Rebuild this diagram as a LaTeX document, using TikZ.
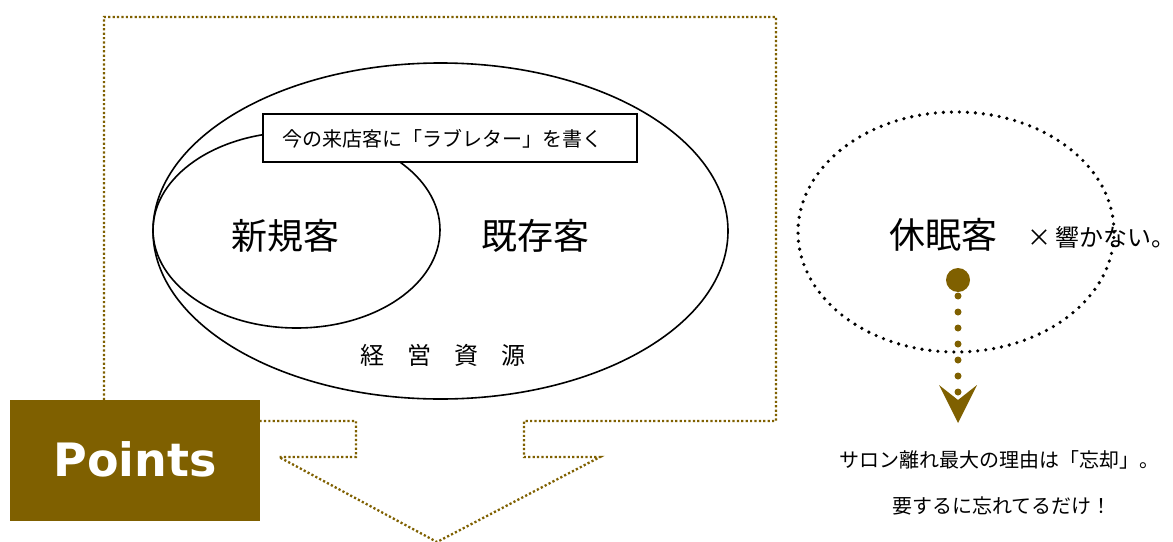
\documentclass[tikz,border=0pt]{standalone}
\usepackage{fontspec}
\setmainfont{Noto Sans CJK JP}
\newfontfamily\pointsfont{DejaVu Sans}
\usetikzlibrary{shapes.geometric}
\definecolor{olive}{HTML}{7F6000}
\tikzset{
  frameline/.style={draw=olive, line width=2.3pt, dash pattern=on 2.2pt off 2.2pt},
  solidell/.style={ellipse, draw=black, line width=1.6pt, inner sep=0pt},
  dotell/.style={ellipse, draw=black, line width=3.6pt, dash pattern=on 0pt off 8pt, line cap=round, inner sep=0pt},
  jtext/.style={inner sep=0pt, text=black},
  labelbox/.style={draw=black, line width=2pt, fill=white, inner sep=0pt},
}
\begin{document}
\begin{tikzpicture}[x=1pt, y=-1pt]
\useasboundingbox (0,0) rectangle (1173,541);
% dotted frame with arrow
\draw[frameline] (104,400) -- (104,17) -- (776,17) -- (776,421) -- (524,421) -- (524,457)
  -- (600,457) -- (437,542) -- (279,457) -- (356,457) -- (356,421) -- (260,421);
% Points box
\node[fill=olive, minimum width=250pt, minimum height=121pt, inner sep=0pt, anchor=north west] (pbox) at (10,400) {};
\node[text=white, font=\pointsfont\bfseries\fontsize{46pt}{46pt}\selectfont, inner sep=0pt] (ptext) at (135,459) {Points};
% ellipses
\node[solidell, minimum width=575pt, minimum height=336pt] (outer) at (440.5,231) {};
\node[solidell, minimum width=287pt, minimum height=196pt] (inner) at (296.5,230) {};
\node[labelbox, minimum width=374pt, minimum height=48pt, anchor=north west] (lbox) at (262,113) {};
\node[jtext, font=\fontsize{20pt}{20pt}\selectfont] (ltext) at (442,139) {今の来店客に「ラブレター」を書く};
\node[jtext, font=\fontsize{36pt}{36pt}\selectfont] (shinki) at (285,236) {新規客};
\node[jtext, font=\fontsize{36pt}{36pt}\selectfont] (kison) at (535,236) {既存客};
\node[jtext, font=\fontsize{24pt}{24pt}\selectfont] (k1) at (372,355) {経};
\node[jtext, font=\fontsize{24pt}{24pt}\selectfont] (k2) at (419,355) {営};
\node[jtext, font=\fontsize{24pt}{24pt}\selectfont] (k3) at (466,355) {資};
\node[jtext, font=\fontsize{24pt}{24pt}\selectfont] (k4) at (513,355) {源};
% dormant
\node[dotell, minimum width=316pt, minimum height=240pt] (dorm) at (956,232) {};
\node[jtext, font=\fontsize{36pt}{36pt}\selectfont] (kyumin) at (943,235) {休眠客};
\node[jtext, font=\fontsize{24pt}{24pt}\selectfont, anchor=west] (hibi) at (1027,237) {×\,響かない。};
% arrow
\node[circle, fill=olive, minimum size=24pt, inner sep=0pt] (dot) at (958,280) {};
\coordinate (tip) at (958,423);
\coordinate (notch) at (958,400);
\draw[olive, line width=7pt, dash pattern=on 0pt off 16pt, line cap=round] ([yshift=-16pt]dot.center) -- ([yshift=31pt]tip);
\fill[olive] (939,385) -- (tip) -- (977,385) -- (notch) -- cycle;
% bottom texts
\node[jtext, font=\fontsize{20pt}{20pt}\selectfont] (t1) at (999,460) {サロン離れ最大の理由は「忘却」。};
\node[jtext, font=\fontsize{20pt}{20pt}\selectfont] (t2) at (1002,506) {要するに忘れてるだけ！};
\end{tikzpicture}
\end{document}
